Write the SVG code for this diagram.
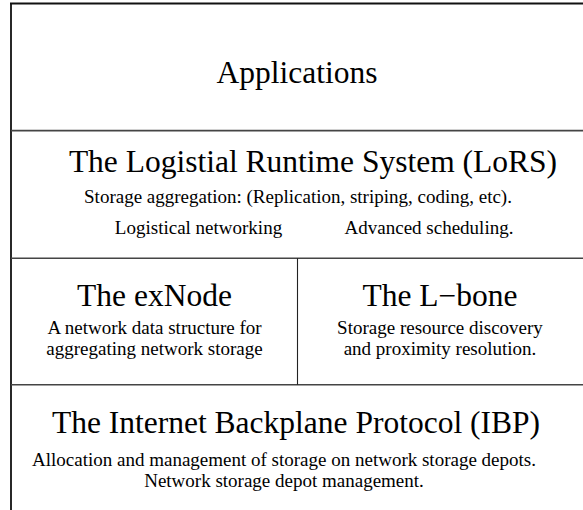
<svg xmlns="http://www.w3.org/2000/svg" width="583" height="510" viewBox="0 0 583 510">
  <style>
    .title { font-family: "Liberation Serif", "Times New Roman", serif; font-size: 31.5px; fill: #000; text-anchor: middle; }
    .sub { font-family: "Liberation Serif", "Times New Roman", serif; font-size: 19px; fill: #000; text-anchor: middle; }
    .edge { stroke: #111; stroke-width: 1.8; fill: none; }
    .rule { stroke: #444; stroke-width: 1.6; fill: none; }
    .split { stroke: #222; stroke-width: 1.1; fill: none; }
  </style>
  <rect width="583" height="510" fill="#fff"/>

  <!-- layer frame -->
  <g id="frame">
    <line class="edge" x1="10" y1="3.5" x2="583" y2="3.5"/>
    <line class="edge" x1="11" y1="3" x2="11" y2="510"/>
    <line class="rule" x1="11" y1="130.6" x2="583" y2="130.6"/>
    <line class="rule" x1="11" y1="258.2" x2="583" y2="258.2"/>
    <line class="rule" x1="11" y1="384.8" x2="583" y2="384.8"/>
    <line class="split" x1="297.5" y1="258.2" x2="297.5" y2="384.8"/>
  </g>

  <g id="applications">
    <text class="title" x="297" y="82.5">Applications</text>
  </g>

  <g id="lors">
    <text class="title" x="313" y="171.5">The Logistial Runtime System (LoRS)</text>
    <text class="sub" x="298" y="203">Storage aggregation: (Replication, striping, coding, etc).</text>
    <text class="sub" x="198.5" y="233.5">Logistical networking</text>
    <text class="sub" x="429" y="233.5">Advanced scheduling.</text>
  </g>

  <g id="exnode">
    <text class="title" x="154.5" y="305.5">The exNode</text>
    <text class="sub" x="154.5" y="334">A network data structure for</text>
    <text class="sub" x="154.5" y="355">aggregating network storage</text>
  </g>

  <g id="lbone">
    <text class="title" x="440" y="305.5">The L−bone</text>
    <text class="sub" x="440" y="334">Storage resource discovery</text>
    <text class="sub" x="440" y="355">and proximity resolution.</text>
  </g>

  <g id="ibp">
    <text class="title" x="296" y="433">The Internet Backplane Protocol (IBP)</text>
    <text class="sub" x="284" y="466">Allocation and management of storage on network storage depots.</text>
    <text class="sub" x="284" y="487">Network storage depot management.</text>
  </g>
</svg>
